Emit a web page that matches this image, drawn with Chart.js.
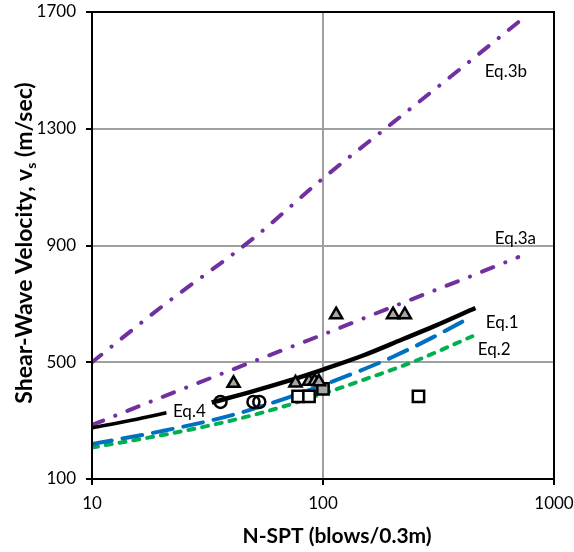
<!DOCTYPE html>
<html>
<head>
<meta charset="utf-8">
<script src="https://cdn.jsdelivr.net/npm/chart.js@4.4.1/dist/chart.umd.min.js"></script>
<style>
  html, body { margin: 0; padding: 0; background: #fff; }
</style>
</head>
<body>
<canvas id="myChart" width="574" height="552"></canvas>
<script>
// valeurs : N-SPT (coups/0.3m) -> Vs (m/sec)
var eq3bN = [10, 20, 50, 100, 200, 400, 700];
var eq3bV = [500, 690, 925, 1130, 1320, 1510, 1665];

var eq3aN = [10, 20, 50, 100, 200, 400, 700];
var eq3aV = [285, 380, 503, 595, 690, 783, 860];

var eq1N = [33, 50, 70, 100, 150, 220, 300, 457];
var eq1V = [362, 401, 435, 475, 524, 578, 622, 686];

var eq4N = [10, 15, 21];
var eq4V = [275, 302, 327];

var blueN = [10, 20, 40, 70, 100, 150, 200, 300, 430];
var blueV = [220, 264, 318, 378, 422, 476, 518, 586, 652];

var greenN = [10, 20, 40, 70, 100, 150, 250, 443];
var greenV = [208, 250, 300, 352, 392, 440, 504, 589];

// points mesures
var triN = [41, 76, 87, 92, 96, 114, 201, 226];
var triV = [428, 429, 435, 435, 433, 663, 663, 663];
var circN = [36, 50, 53];
var circV = [364, 364, 364];
var sqN = [78, 87, 259];
var sqV = [383, 383, 383];
var sqGrayN = [100];
var sqGrayV = [409];

var xTicks = [10, 100, 1000];

// etiquettes des equations (position en N, Vs)
var labelText = ['Eq.3b', 'Eq.3a', 'Eq.1', 'Eq.2', 'Eq.4'];
var labelN = [501, 554, 507, 468, 22.4];
var labelV = [1497, 924, 636, 544, 332];

function pts(xs, ys) {
    return xs.map(function(x, i) { return { x: x, y: ys[i] }; });
}

var FONT = 'Lato, "Liberation Sans", sans-serif';

var extras = {
    id: 'extras',
    afterDatasetsDraw: function(chart) {
        var ctx = chart.ctx;
        var xs = chart.scales.x, ys = chart.scales.y;
        ctx.save();
        ctx.font = '17px ' + FONT;
        ctx.fillStyle = '#000';
        ctx.textAlign = 'left';
        ctx.textBaseline = 'middle';
        for (var i = 0; i < labelText.length; i++) {
            ctx.fillText(labelText[i], xs.getPixelForValue(labelN[i]), ys.getPixelForValue(labelV[i]));
        }
        ctx.restore();
    },
    afterDraw: function(chart) {
        var ctx = chart.ctx;
        var a = chart.chartArea;
        ctx.save();
        // cadre noir
        ctx.strokeStyle = '#000';
        ctx.lineWidth = 2;
        ctx.strokeRect(a.left, a.top, a.right - a.left, a.bottom - a.top);

        // titre axe X
        ctx.fillStyle = '#000';
        ctx.font = 'bold 21px ' + FONT;
        ctx.textAlign = 'center';
        ctx.textBaseline = 'middle';
        ctx.fillText('N-SPT (blows/0.3m)', 337, 536);

        // titre axe Y avec indice
        var p1 = 'Shear-Wave Velocity, v';
        var sub = 's';
        var p2 = ' (m/sec)';
        ctx.translate(25, 243);
        ctx.rotate(-Math.PI / 2);
        ctx.font = 'bold 23px ' + FONT;
        var w1 = ctx.measureText(p1).width;
        var w3 = ctx.measureText(p2).width;
        ctx.font = 'bold 14px ' + FONT;
        var w2 = ctx.measureText(sub).width;
        var total = w1 + w2 + w3;
        var x0 = -total / 2;
        ctx.textAlign = 'left';
        ctx.font = 'bold 23px ' + FONT;
        ctx.fillText(p1, x0, 0);
        ctx.font = 'bold 14px ' + FONT;
        ctx.fillText(sub, x0 + w1, 6);
        ctx.font = 'bold 23px ' + FONT;
        ctx.fillText(p2, x0 + w1 + w2, 0);
        ctx.restore();
    }
};

var lineBase = { showLine: true, pointRadius: 0, pointHoverRadius: 0, fill: false, cubicInterpolationMode: 'monotone' };

var ctx = document.getElementById('myChart').getContext('2d');
var myChart = new Chart(ctx, {
    type: 'scatter',
    data: {
        datasets: [
            { label: 'tri', data: pts(triN, triV), order: 0, pointStyle: 'triangle', pointRadius: 7,
              backgroundColor: '#a6a6a6', borderColor: '#000', borderWidth: 2.5 },
            { label: 'circ', data: pts(circN, circV), order: 0, pointStyle: 'circle', pointRadius: 6,
              backgroundColor: 'rgba(255,255,255,0)', borderColor: '#000', borderWidth: 2.5 },
            { label: 'sq', data: pts(sqN, sqV), order: 0, pointStyle: 'rect', pointRadius: 8,
              backgroundColor: '#fff', borderColor: '#000', borderWidth: 2.5 },
            { label: 'sqGray', data: pts(sqGrayN, sqGrayV), order: 0, pointStyle: 'rect', pointRadius: 8,
              backgroundColor: '#a6a6a6', borderColor: '#000', borderWidth: 2.5 },
            Object.assign({ label: 'Eq.1', data: pts(eq1N, eq1V), order: 1,
              borderColor: '#000', borderWidth: 4.5 }, lineBase),
            Object.assign({ label: 'Eq.4', data: pts(eq4N, eq4V), order: 1,
              borderColor: '#000', borderWidth: 3.5 }, lineBase),
            Object.assign({ label: 'blue', data: pts(blueN, blueV), order: 2,
              borderColor: '#0070c0', borderWidth: 4, borderDash: [20, 11], borderCapStyle: 'round' }, lineBase),
            Object.assign({ label: 'green', data: pts(greenN, greenV), order: 3,
              borderColor: '#00b050', borderWidth: 4, borderDash: [6, 8], borderCapStyle: 'round' }, lineBase),
            Object.assign({ label: 'Eq.3a', data: pts(eq3aN, eq3aV), order: 4,
              borderColor: '#7030a0', borderWidth: 4, borderDash: [12, 13, 0.1, 13], borderCapStyle: 'round' }, lineBase),
            Object.assign({ label: 'Eq.3b', data: pts(eq3bN, eq3bV), order: 4,
              borderColor: '#7030a0', borderWidth: 4, borderDash: [12, 13, 0.1, 13], borderCapStyle: 'round' }, lineBase)
        ]
    },
    options: {
        responsive: false,
        animation: false,
        layout: { padding: { left: 0, top: 12, right: 20, bottom: 0 } },
        plugins: {
            legend: { display: false },
            tooltip: { enabled: false }
        },
        scales: {
            x: {
                type: 'logarithmic',
                min: 10,
                max: 1000,
                afterBuildTicks: function(scale) {
                    scale.ticks = xTicks.map(function(v) { return { value: v }; });
                },
                afterFit: function(scale) {
                    scale.height = 73;
                    scale.paddingLeft = 0;
                    scale.paddingRight = 0;
                },
                ticks: {
                    color: '#000',
                    font: { family: FONT, size: 17 },
                    padding: 8,
                    maxRotation: 0,
                    autoSkip: false,
                    callback: function(v) { return String(v); }
                },
                grid: { color: '#a0a0a0', lineWidth: 2, tickColor: '#000', tickWidth: 2, tickLength: 6 },
                border: { color: '#000', width: 2 }
            },
            y: {
                min: 100,
                max: 1700,
                afterFit: function(scale) {
                    scale.width = 92;
                    scale.paddingTop = 0;
                    scale.paddingBottom = 0;
                },
                ticks: {
                    stepSize: 400,
                    color: '#000',
                    font: { family: FONT, size: 17 },
                    padding: 10,
                    callback: function(v) { return String(v); }
                },
                grid: { color: '#a0a0a0', lineWidth: 2, tickColor: '#000', tickWidth: 2, tickLength: 6 },
                border: { color: '#000', width: 2 }
            }
        }
    },
    plugins: [extras]
});
</script>
</body>
</html>
